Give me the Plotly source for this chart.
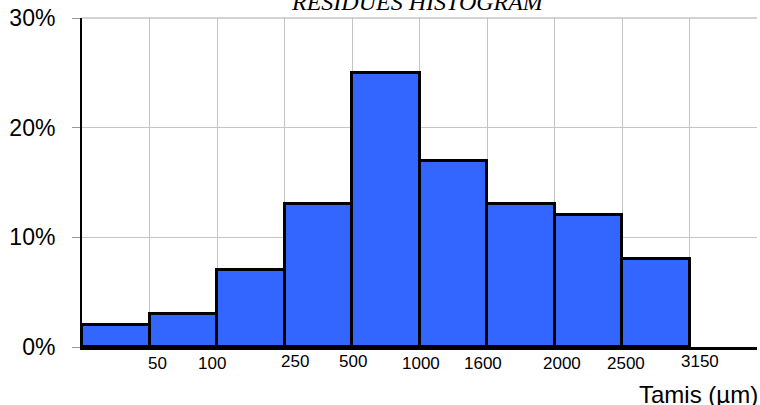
import plotly.graph_objects as go

# Data
bins = ["0-50", "50-100", "100-250", "250-500", "500-1000", "1000-1600",
        "1600-2000", "2000-2500", "2500-3150"]
percent = [2, 3, 7, 13, 25, 17, 13, 12, 8]
edge_labels = ["50", "100", "250", "500", "1000", "1600", "2000", "2500", "3150"]
y_ticks = [0, 10, 20, 30]

# Style (label nudges, px)
label_shift = [8, -5, 10, 1, 1, -4, 7, 4, 10]
label_yshift = [-16, -16, -14, -14, -16, -16, -16, -16, -14]

n_slots = len(bins) + 1
centers = [i + 0.5 for i in range(len(bins))]

fig = go.Figure()
fig.add_trace(go.Bar(
    x=centers, y=percent, width=1,
    marker=dict(color="#3366FF", line=dict(color="black", width=3)),
    hoverinfo="y",
))

annotations = []
for i, lab in enumerate(edge_labels):
    annotations.append(dict(
        x=i + 1, y=0, xref="x", yref="y", text=lab, showarrow=False,
        xanchor="center", yanchor="middle", xshift=label_shift[i], yshift=label_yshift[i],
        font=dict(family="Liberation Sans Narrow, Arial Narrow, Liberation Sans, sans-serif",
                  size=17, color="black"),
    ))
annotations.append(dict(
    x=0.5, y=1, xref="paper", yref="paper", text="<i>RESIDUES HISTOGRAM</i>",
    showarrow=False, xanchor="center", yanchor="bottom", xshift=-2, yshift=1,
    font=dict(family="Liberation Serif, Times New Roman, serif", size=24, color="black"),
))
annotations.append(dict(
    x=1, y=0, xref="paper", yref="paper", text="Tamis (µm)", showarrow=False,
    xanchor="right", yanchor="middle", xshift=3, yshift=-47,
    font=dict(family="Liberation Sans, Arial, sans-serif", size=24, color="black"),
))

fig.update_layout(
    width=760, height=405,
    margin=dict(l=82, r=3, t=17.5, b=58),
    paper_bgcolor="white", plot_bgcolor="white",
    showlegend=False, bargap=0,
    annotations=annotations,
    xaxis=dict(
        range=[0, n_slots], tickmode="linear", tick0=0, dtick=1,
        showticklabels=False, showgrid=True, gridcolor="#c4c4c4", gridwidth=1,
        zeroline=False, showline=True, linecolor="black", linewidth=3,
        ticks="", fixedrange=True,
    ),
    yaxis=dict(
        range=[0, 30], tickvals=y_ticks, ticktext=[f"{v}%" for v in y_ticks],
        showgrid=True, gridcolor="#c4c4c4", gridwidth=1,
        zeroline=False, showline=True, linecolor="black", linewidth=2,
        ticks="outside", ticklen=8, tickcolor="#999999", tickwidth=1,
        ticklabelstandoff=12,
        tickfont=dict(family="Liberation Sans, Arial, sans-serif", size=23, color="black"),
        fixedrange=True,
    ),
)
fig.add_shape(type="line", xref="paper", yref="paper", x0=0, x1=1, y0=1, y1=1,
              line=dict(color="#c4c4c4", width=1.5))

fig.write_html("out.html", config={"displayModeBar": False},
               post_script="document.body.style.margin='0';document.body.style.overflow='hidden';")
